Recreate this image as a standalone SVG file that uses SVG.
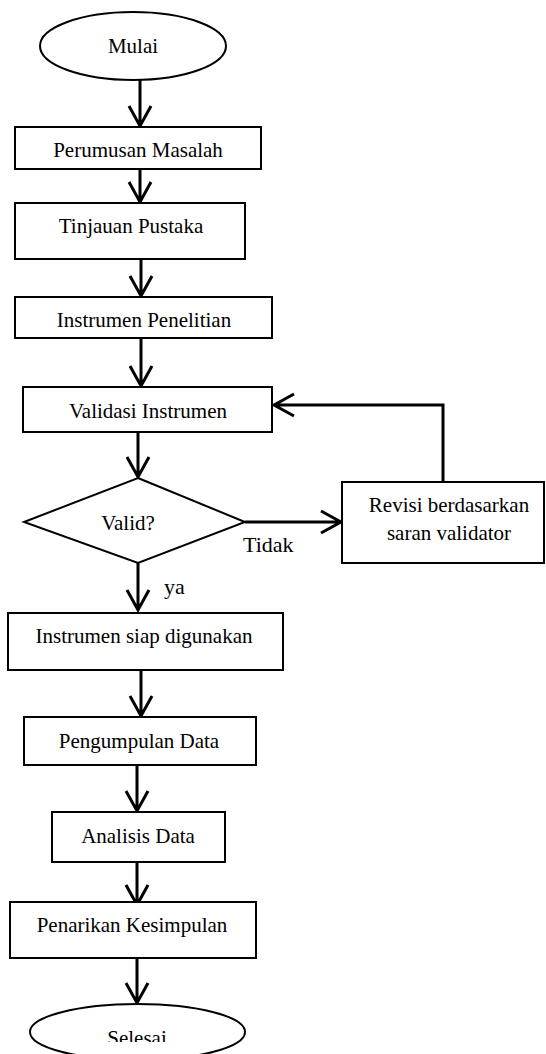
<svg xmlns="http://www.w3.org/2000/svg" width="546" height="1054" viewBox="0 0 546 1054">
<style>
.box{fill:#fff;stroke:#000;stroke-width:2}
.t{font-family:"Liberation Serif","Times New Roman",serif;font-size:21px;fill:#000;text-anchor:middle}
.lbl{font-family:"Liberation Serif","Times New Roman",serif;font-size:22px;fill:#000}
.ln{fill:none;stroke:#000;stroke-width:3}
</style>
<defs>
<clipPath id="clipSel"><rect x="0" y="0" width="546" height="1042"/></clipPath>
</defs>
<rect width="546" height="1054" fill="#fff"/>
<g id="connectors">
<path class="ln" d="M140 80V126M129 106L140 126L151 106"/>
<path class="ln" d="M140 169V202M129 182L140 202L151 182"/>
<path class="ln" d="M141 248V296M130 276L141 296L152 276"/>
<path class="ln" d="M141 338V386M130 366L141 386L152 366"/>
<path class="ln" d="M138 432V477M127 457L138 477L149 457"/>
<path class="ln" d="M138 563V610M127 590L138 610L149 590"/>
<path class="ln" d="M245 522H341M321 511L341 522L321 533"/>
<path class="ln" d="M443 482V405H274M294 394L274 405L294 416"/>
<path class="ln" d="M141 670V716M130 696L141 716L152 696"/>
<path class="ln" d="M137 765V811M126 791L137 811L148 791"/>
<path class="ln" d="M137 862V905M126 885L137 905L148 885"/>
<path class="ln" d="M137 958V1003M126 983L137 1003L148 983"/>
<text class="lbl" x="243" y="552">Tidak</text>
<text class="lbl" x="164" y="594">ya</text>
</g>
<g id="mulai"><ellipse class="box" cx="133" cy="46" rx="93" ry="34"/><text class="t" x="133" y="53">Mulai</text></g>
<g id="perumusan"><rect class="box" x="15" y="127" width="246" height="42"/><text class="t" x="138" y="157">Perumusan Masalah</text></g>
<g id="tinjauan"><rect class="box" x="15" y="203" width="230" height="56"/><text class="t" x="131" y="233">Tinjauan Pustaka</text></g>
<g id="instrumen"><rect class="box" x="15" y="297" width="257" height="41"/><text class="t" x="144" y="327">Instrumen Penelitian</text></g>
<g id="validasi"><rect class="box" x="23" y="387" width="249" height="45"/><text class="t" x="148" y="418">Validasi Instrumen</text></g>
<g id="valid"><polygon class="box" points="138,478 245,522 138,563 24,522"/><text class="t" x="128" y="530">Valid?</text></g>
<g id="revisi"><rect class="box" x="342" y="482" width="202" height="81"/><text class="t" x="449" y="512">Revisi berdasarkan</text><text class="t" x="449" y="540">saran validator</text></g>
<g id="siap"><rect class="box" x="8" y="613" width="275" height="57"/><text class="t" x="144" y="643">Instrumen siap digunakan</text></g>
<g id="pengumpulan"><rect class="box" x="24" y="717" width="232" height="48"/><text class="t" x="139" y="748">Pengumpulan Data</text></g>
<g id="analisis"><rect class="box" x="52" y="812" width="173" height="50"/><text class="t" x="138" y="843">Analisis Data</text></g>
<g id="penarikan"><rect class="box" x="10" y="902" width="246" height="56"/><text class="t" x="132" y="932">Penarikan Kesimpulan</text></g>
<g id="selesai"><ellipse class="box" cx="137.5" cy="1032" rx="107.5" ry="28"/><text class="t" x="137" y="1045" clip-path="url(#clipSel)">Selesai</text></g>
</svg>
